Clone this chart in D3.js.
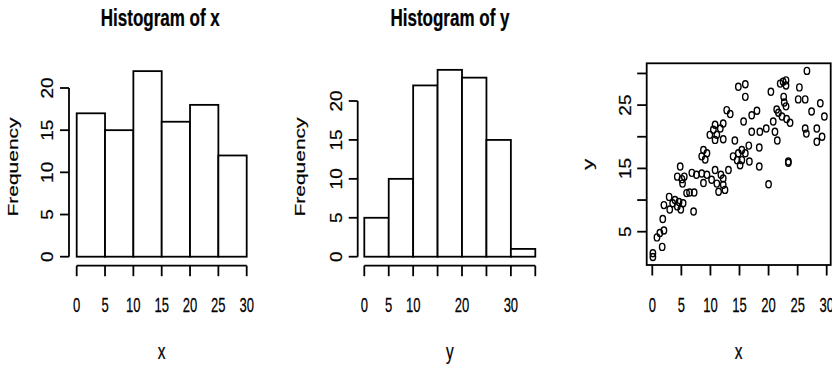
<!DOCTYPE html>
<html>
<head>
<meta charset="utf-8">
<script src="https://cdn.jsdelivr.net/npm/d3@7"></script>
<style>
  html, body { margin: 0; padding: 0; background: #fff; }
  svg { display: block; }
  text { font-family: "Liberation Sans", Arial, Helvetica, sans-serif; fill: #000; stroke: #000; stroke-width: 0.25px; }
</style>
</head>
<body>
<svg id="chart" width="832" height="366"></svg>
<script>
// ---- Histogram of x ----
const xBreaks = [0, 5, 10, 15, 20, 25, 30];
const xCounts = [17, 15, 22, 16, 18, 12];
const xHistTicks = [0, 5, 10, 15, 20, 25, 30];
const xFreqTicks = [0, 5, 10, 15, 20];

// ---- Histogram of y ----
const yBreaks = [0, 5, 10, 15, 20, 25, 30, 35];
const yCounts = [5, 10, 22, 24, 23, 15, 1];
const yHistTicks = [0, 5, 10, 15, 20, 25, 30, 35];
const yHistTickLabels = [0, 5, 10, 20, 30];
const yFreqTicks = [0, 5, 10, 15, 20];

// ---- Scatter of y against x ----
const scatterX = [
  0.1, 0.1, 0.8, 1.3, 2.0, 1.7, 1.8,
  2.0, 2.9, 3.0, 3.5, 3.9, 4.3, 4.6, 4.9, 5.3, 5.9, 6.4, 7.2, 7.1,
  4.8, 4.3, 5.1, 5.5, 5.2, 6.8, 7.6, 8.5, 8.8,
  8.8, 9.4, 9.1, 8.5, 9.4, 10.2, 10.8, 11.8, 12.2, 11.1, 12.2, 11.4, 12.5, 13.1,
  10.8, 12.2, 11.7, 10.5, 9.9, 11.1, 12.2, 10.8, 12.8, 13.4, 14.2,
  13.9, 14.8, 15.4, 16.0, 14.6, 15.4, 15.1, 16.7, 18.4, 18.4, 20.0, 16.6,
  14.8, 16.0, 16.0, 15.7, 17.1, 18.0, 17.1, 18.5, 19.6, 20.4, 20.8, 21.4, 21.7, 21.1, 21.5,
  22.0, 22.5, 23.0, 23.0, 22.6, 22.7, 23.0, 22.3, 23.1, 23.7, 23.4, 23.4,
  25.3, 25.1, 26.3, 26.6, 27.4, 28.9, 29.6, 26.3, 26.5, 28.3, 29.2, 28.3
];
const scatterY = [
  1.6, 1.0, 4.1, 4.8, 5.2, 2.6, 7.0,
  9.2, 10.5, 8.5, 9.5, 10.0, 9.0, 9.7, 8.5, 9.5, 11.1, 11.2, 11.2, 8.2,
  15.3, 13.7, 13.3, 13.7, 12.6, 14.3, 14.0, 14.2, 12.7,
  17.9, 17.4, 16.4, 16.9, 14.0, 13.2, 14.75, 14.0, 13.4, 12.6, 12.4, 11.3, 11.6, 14.75,
  21.9, 22.1, 21.3, 21.1, 20.3, 20.3, 19.6, 19.5, 24.2, 23.6, 19.4,
  16.9, 17.4, 17.9, 17.4, 16.3, 16.3, 15.5, 16.1, 18.3, 15.3, 12.5, 18.6,
  27.9, 28.3, 26.3, 22.4, 23.4, 24.1, 20.8, 20.8, 21.3, 27.1, 22.4, 24.3, 23.8, 20.8, 19.4,
  28.4, 28.7, 28.9, 28.1, 26.3, 25.4, 24.8, 23.2, 22.8, 22.2, 16.1, 15.9,
  27.8, 25.9, 25.9, 30.4, 24.0, 25.3, 23.2, 21.3, 20.5, 21.3, 20.0, 19.2
];
const scatterXTicks = [0, 5, 10, 15, 20, 25, 30];
const scatterYTicks = [5, 10, 15, 20, 25, 30];
const scatterYTickLabels = [5, 15, 25];

// ---- drawing ----
const svg = d3.select("#chart");
svg.append("rect").attr("width", 832).attr("height", 366).attr("fill", "#fff");

const LW = 1.8;          // line width of bars, axes and box
const SQ_TITLE = 0.74;   // horizontal squeeze of the bold titles
const SQ_TICK = 0.62;    // horizontal squeeze of horizontal tick labels
const SQ_VTICK = 0.85;   // squeeze of rotated tick labels
const SQ_LAB = 0.7;      // squeeze of axis titles
const TICK_FS = 21;
const VTICK_FS = 19;
const LAB_FS = 21;
const TITLE_FS = 23;

function hText(x, y, str, size, sq, weight) {
  svg.append("g")
    .attr("transform", `translate(${x},${y}) scale(${sq},1)`)
    .append("text")
    .attr("text-anchor", "middle")
    .attr("font-size", size)
    .attr("font-weight", weight || "normal")
    .text(str);
}
function vText(x, y, str, size, sq, dy) {
  svg.append("g")
    .attr("transform", `translate(${x},${y}) scale(${sq},1) rotate(-90)`)
    .append("text")
    .attr("text-anchor", "middle")
    .attr("font-size", size)
    .attr("dy", dy)
    .text(str);
}
function line(x1, y1, x2, y2) {
  svg.append("line")
    .attr("x1", x1).attr("y1", y1).attr("x2", x2).attr("y2", y2)
    .attr("stroke", "#000").attr("stroke-width", LW);
}

function histogram(opt) {
  const xs = d3.scaleLinear().domain(opt.xDomain).range(opt.xRange);
  const ys = d3.scaleLinear().domain([0, 20]).range(opt.yRange);
  const bins = opt.counts.map((c, i) => ({ x0: opt.breaks[i], x1: opt.breaks[i + 1], n: c }));

  svg.append("g").selectAll("rect").data(bins).join("rect")
    .attr("x", d => xs(d.x0))
    .attr("width", d => xs(d.x1) - xs(d.x0))
    .attr("y", d => ys(d.n))
    .attr("height", d => ys(0) - ys(d.n))
    .attr("fill", "#fff")
    .attr("stroke", "#000")
    .attr("stroke-width", LW);

  // left axis
  const ax = opt.yAxisX;
  line(ax, ys(0), ax, ys(20));
  opt.freqTicks.forEach(t => {
    line(ax - 9, ys(t), ax, ys(t));
    vText(ax - 22, ys(t), String(t), VTICK_FS, SQ_VTICK, "0.36em");
  });

  // bottom axis
  const by = 265.7;
  line(xs(opt.xTicks[0]), by, xs(opt.xTicks[opt.xTicks.length - 1]), by);
  opt.xTicks.forEach(t => line(xs(t), by, xs(t), by + 10.5));
  opt.xLabels.forEach(t => hText(xs(t), 312, String(t), TICK_FS, SQ_TICK));

  const cx = (opt.xRange[0] + opt.xRange[1]) / 2;
  hText(opt.titleX, 26, opt.title, TITLE_FS, SQ_TITLE, "bold");
  hText(cx, 359, opt.xlab, LAB_FS + 1, SQ_LAB);
  vText(opt.ylabX, 167, "Frequency", LAB_FS, SQ_LAB, "0.25em");
}

histogram({
  breaks: xBreaks, counts: xCounts,
  xDomain: [0, 30], xRange: [76.7, 246.7], yRange: [256.7, 88],
  yAxisX: 69, freqTicks: xFreqTicks, xTicks: xHistTicks, xLabels: xHistTicks,
  title: "Histogram of x", titleX: 160.3, xlab: "x", ylabX: 14
});

histogram({
  breaks: yBreaks, counts: yCounts,
  xDomain: [0, 35], xRange: [364.3, 535.3], yRange: [256.7, 101],
  yAxisX: 357.7, freqTicks: yFreqTicks, xTicks: yHistTicks, xLabels: yHistTickLabels,
  title: "Histogram of y", titleX: 450, xlab: "y", ylabX: 301.7
});

// scatter panel
(function () {
  const xs = d3.scaleLinear().domain([0, 30]).range([652.3, 826.7]);
  const ys = d3.scaleLinear().domain([5, 30]).range([231.7, 73.45]);
  const box = { l: 646.7, r: 830.7, t: 63.3, b: 265 };

  svg.append("rect")
    .attr("x", box.l).attr("y", box.t)
    .attr("width", box.r - box.l).attr("height", box.b - box.t)
    .attr("fill", "none").attr("stroke", "#000").attr("stroke-width", LW);

  scatterYTicks.forEach(t => line(box.l - 9.5, ys(t), box.l, ys(t)));
  scatterYTickLabels.forEach(t => vText(box.l - 22, ys(t), String(t), VTICK_FS, SQ_VTICK, "0.36em"));
  scatterXTicks.forEach(t => {
    line(xs(t), box.b, xs(t), box.b + 10.5);
    hText(xs(t), 312, String(t), TICK_FS, SQ_TICK);
  });

  const pts = scatterX.map((x, i) => ({ x, y: scatterY[i] }));
  svg.append("g").selectAll("ellipse").data(pts).join("ellipse")
    .attr("cx", d => xs(d.x))
    .attr("cy", d => ys(d.y))
    .attr("rx", 2.7)
    .attr("ry", 3.5)
    .attr("fill", "none")
    .attr("stroke", "#000")
    .attr("stroke-width", 1.4);

  hText((box.l + box.r) / 2, 359, "x", LAB_FS + 1, SQ_LAB);
  vText(591.7, (box.t + box.b) / 2, "y", LAB_FS + 1, SQ_LAB, "0.1em");
})();
</script>
</body>
</html>
